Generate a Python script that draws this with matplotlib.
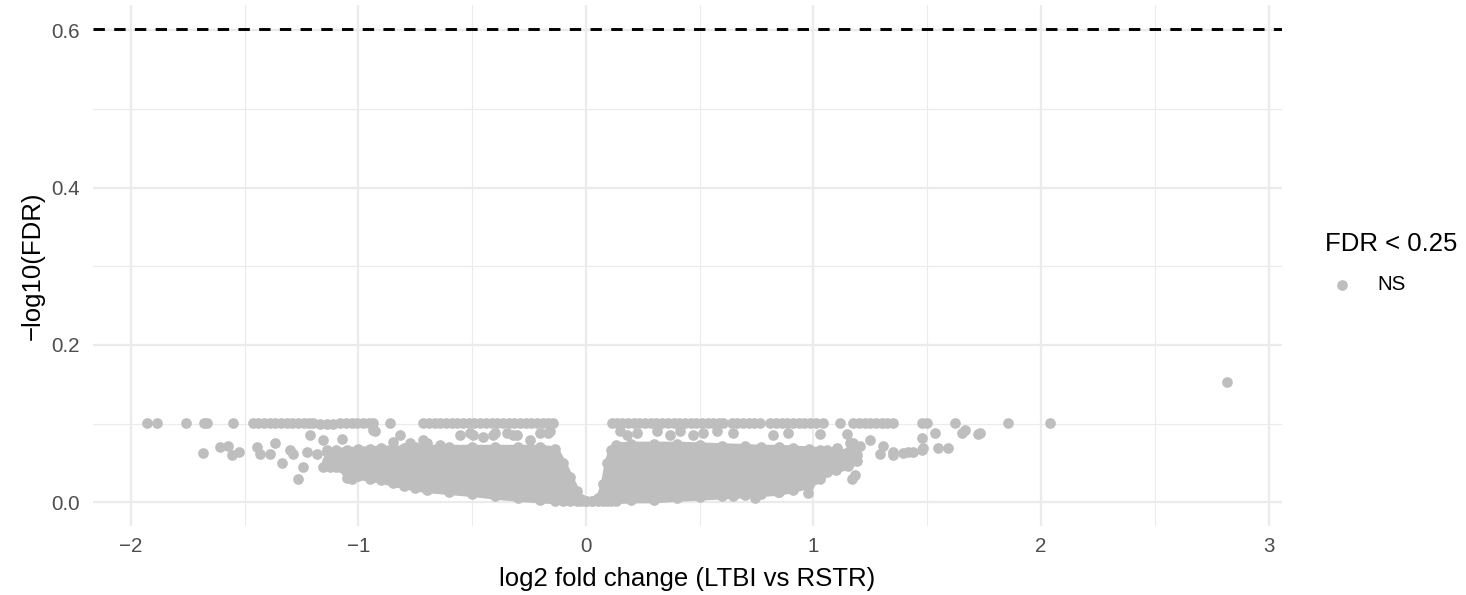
import numpy as np
import matplotlib.pyplot as plt

plt.rcParams['font.family'] = ['Liberation Sans', 'DejaVu Sans']

grey = '#BEBEBE'
fdr_cut = 0.25

# genes sitting on the highest FDR level (-log10 FDR ~ 0.101)
top_row_y = 0.101
top_row_x = [-1.931, -1.884, -1.758, -1.679, -1.667, -1.553,
             -1.464, -1.44, -1.415, -1.39, -1.365, -1.34, -1.315, -1.29, -1.265, -1.24, -1.215, -1.20,
             -1.08, -1.055, -1.03, -1.005, -0.98, -0.955, -0.936, -0.862,
             -0.716, -0.69, -0.665, -0.64, -0.615, -0.59, -0.565, -0.54, -0.515, -0.49, -0.465, -0.44,
             -0.415, -0.39, -0.365, -0.34, -0.315, -0.29, -0.265, -0.24, -0.215, -0.19, -0.165, -0.145,
             0.113, 0.135, 0.16, 0.185, 0.21, 0.235, 0.26, 0.285, 0.31, 0.335, 0.36, 0.385, 0.41,
             0.435, 0.46, 0.485, 0.51, 0.535, 0.56, 0.585, 0.602,
             0.64, 0.665, 0.69, 0.715, 0.74, 0.765,
             0.809, 0.835, 0.86, 0.885, 0.91, 0.935, 0.96, 0.985, 1.01, 1.042, 1.116,
             1.174, 1.20, 1.225, 1.25, 1.275, 1.30, 1.325, 1.349, 1.476, 1.498, 1.622, 1.854, 2.040]

# scattered genes outside the dense cloud
other_x = [-1.17, -1.14, -1.11,
           -1.682, -1.609, -1.572, -1.557, -1.524, -1.445, -1.433, -1.389, -1.367, -1.338, -1.301,
           -1.287, -1.265, -1.243, -1.228, -1.213, -1.184, -1.155, -1.155, -1.140, -1.125, -1.096,
           -1.081, -1.074, -1.052, -1.052, -1.030, -1.030, -0.935, -0.927, -0.847, -0.818, -0.774,
           -0.715, -0.700, -0.642, -0.554, -0.510, -0.495, -0.451, -0.407, -0.400, -0.349, -0.320,
           -0.305, -0.246, -0.202, -0.166, -0.158,
           0.149, 0.179, 0.223, 0.311, 0.369, 0.413, 0.472, 0.516, 0.575, 0.647, 0.822, 0.889,
           1.029, 1.146, 1.160, 1.170, 1.174, 1.204, 1.248, 1.305, 1.349, 1.393, 1.437, 1.476, 1.476,
           1.481, 1.534, 1.549, 1.593, 1.651, 1.666, 1.725, 1.732, 1.058, 1.102, 1.351, 1.417, 1.292,
           0.647, 0.743, 0.845, 0.977, 1.168, 1.182,
           2.818]
other_y = [0.099, 0.099, 0.099,
           0.063, 0.070, 0.071, 0.060, 0.0645, 0.070, 0.062, 0.062, 0.075, 0.050, 0.067,
           0.062, 0.029, 0.045, 0.0645, 0.086, 0.062, 0.079, 0.045, 0.067, 0.045, 0.060,
           0.050, 0.080, 0.031, 0.054, 0.029, 0.043, 0.092, 0.090, 0.077, 0.086, 0.075,
           0.079, 0.075, 0.073, 0.086, 0.088, 0.086, 0.0835, 0.086, 0.088, 0.088, 0.086,
           0.086, 0.079, 0.088, 0.088, 0.090,
           0.090, 0.086, 0.088, 0.090, 0.086, 0.090, 0.086, 0.088, 0.090, 0.088, 0.086, 0.088,
           0.087, 0.087, 0.075, 0.071, 0.075, 0.071, 0.079, 0.071, 0.060, 0.063, 0.0645, 0.067, 0.0815,
           0.069, 0.088, 0.069, 0.069, 0.088, 0.092, 0.087, 0.088, 0.062, 0.069, 0.0645, 0.0645, 0.062,
           0.0074, 0.0053, 0.0137, 0.0117, 0.029, 0.035,
           0.153]

# dense cloud of genes: upper / lower edge of point centres
cloud_x = [-1.14, -1.10, -1.05, -1.00, -0.95, -0.90, -0.85, -0.80, -0.75, -0.70, -0.60, -0.50,
           -0.40, -0.30, -0.20, -0.135, -0.10, -0.07, -0.04, -0.02, 0.00, 0.025, 0.055, 0.076,
           0.092, 0.108, 0.13, 0.20, 0.30, 0.40, 0.50, 0.60, 0.70, 0.77, 0.85, 0.91, 0.98,
           1.03, 1.06, 1.10, 1.15, 1.19]
cloud_hi = [0.064, 0.066, 0.067, 0.068, 0.068, 0.069, 0.069, 0.069, 0.070, 0.070, 0.070, 0.070,
            0.070, 0.070, 0.070, 0.068, 0.050, 0.032, 0.014, 0.004, 0.0015, 0.0015, 0.006, 0.023,
            0.050, 0.066, 0.073, 0.074, 0.074, 0.074, 0.073, 0.072, 0.071, 0.070, 0.070, 0.069, 0.068,
            0.067, 0.066, 0.066, 0.064, 0.060]
cloud_lo = [0.052, 0.045, 0.037, 0.033, 0.030, 0.028, 0.024, 0.021, 0.018, 0.016, 0.0135, 0.011,
            0.0077, 0.005, 0.0028, 0.002, 0.0015, 0.0015, 0.0015, 0.0015, 0.0015, 0.0015, 0.0015, 0.0015,
            0.002, 0.002, 0.002, 0.003, 0.003, 0.005, 0.0065, 0.008, 0.0095, 0.011, 0.013, 0.016, 0.022,
            0.030, 0.038, 0.041, 0.046, 0.052]

fig = plt.figure(figsize=(14.66, 5.95), dpi=100)
ax = fig.add_axes([0.0632, 0.1160, 0.8111, 0.8756])

dot = 7.7  # point diameter in pt
ax.fill_between(cloud_x, cloud_lo, cloud_hi, facecolor=grey, edgecolor=grey,
                linewidth=dot * 0.55, joinstyle='round', zorder=2)
# points along the cloud edges give it the dotted outline
ax.scatter(cloud_x, cloud_hi, s=dot ** 2, color=grey, linewidths=0, zorder=2)
ax.scatter(cloud_x, cloud_lo, s=dot ** 2, color=grey, linewidths=0, zorder=2)
pts = ax.scatter(top_row_x, [top_row_y] * len(top_row_x), s=dot ** 2, color=grey,
                 linewidths=0, zorder=3, label='NS')
ax.scatter(other_x, other_y, s=dot ** 2, color=grey, linewidths=0, zorder=3)

ax.axhline(-np.log10(fdr_cut), color='black', lw=2.1, linestyle=(0, (3.9, 3.2)), zorder=4)

ax.set_xlim(-2.168, 3.058)
ax.set_ylim(-0.0301, 0.632)
ax.set_xticks([-2, -1, 0, 1, 2, 3])
ax.set_xticks([-1.5, -0.5, 0.5, 1.5, 2.5], minor=True)
ax.set_yticks([0.0, 0.2, 0.4, 0.6])
ax.set_yticklabels(['0.0', '0.2', '0.4', '0.6'])
ax.set_yticks([0.1, 0.3, 0.5], minor=True)
ax.grid(which='major', color='#EBEBEB', lw=1.6)
ax.grid(which='minor', color='#EBEBEB', lw=0.8)
ax.set_axisbelow(True)
ax.tick_params(which='both', length=0, labelsize=14.8, labelcolor='#4D4D4D')
ax.tick_params(axis='y', pad=9)
ax.tick_params(axis='x', pad=8)
for s in ax.spines.values():
    s.set_visible(False)

ax.set_xlabel('log2 fold change (LTBI vs RSTR)', fontsize=18.5, labelpad=8)
ax.set_ylabel('\u2212log10(FDR)', fontsize=18.5, labelpad=5)

leg = ax.legend(handles=[pts], labels=['NS'], title='FDR < 0.25', loc='center left',
                bbox_to_anchor=(1.0365, 0.505), frameon=False, fontsize=14.8,
                title_fontsize=18.5, borderpad=0, borderaxespad=0, handlelength=1.65,
                handletextpad=0.87, labelspacing=0.96, alignment='left')

fig.savefig('out.png', dpi=100, facecolor='white')
